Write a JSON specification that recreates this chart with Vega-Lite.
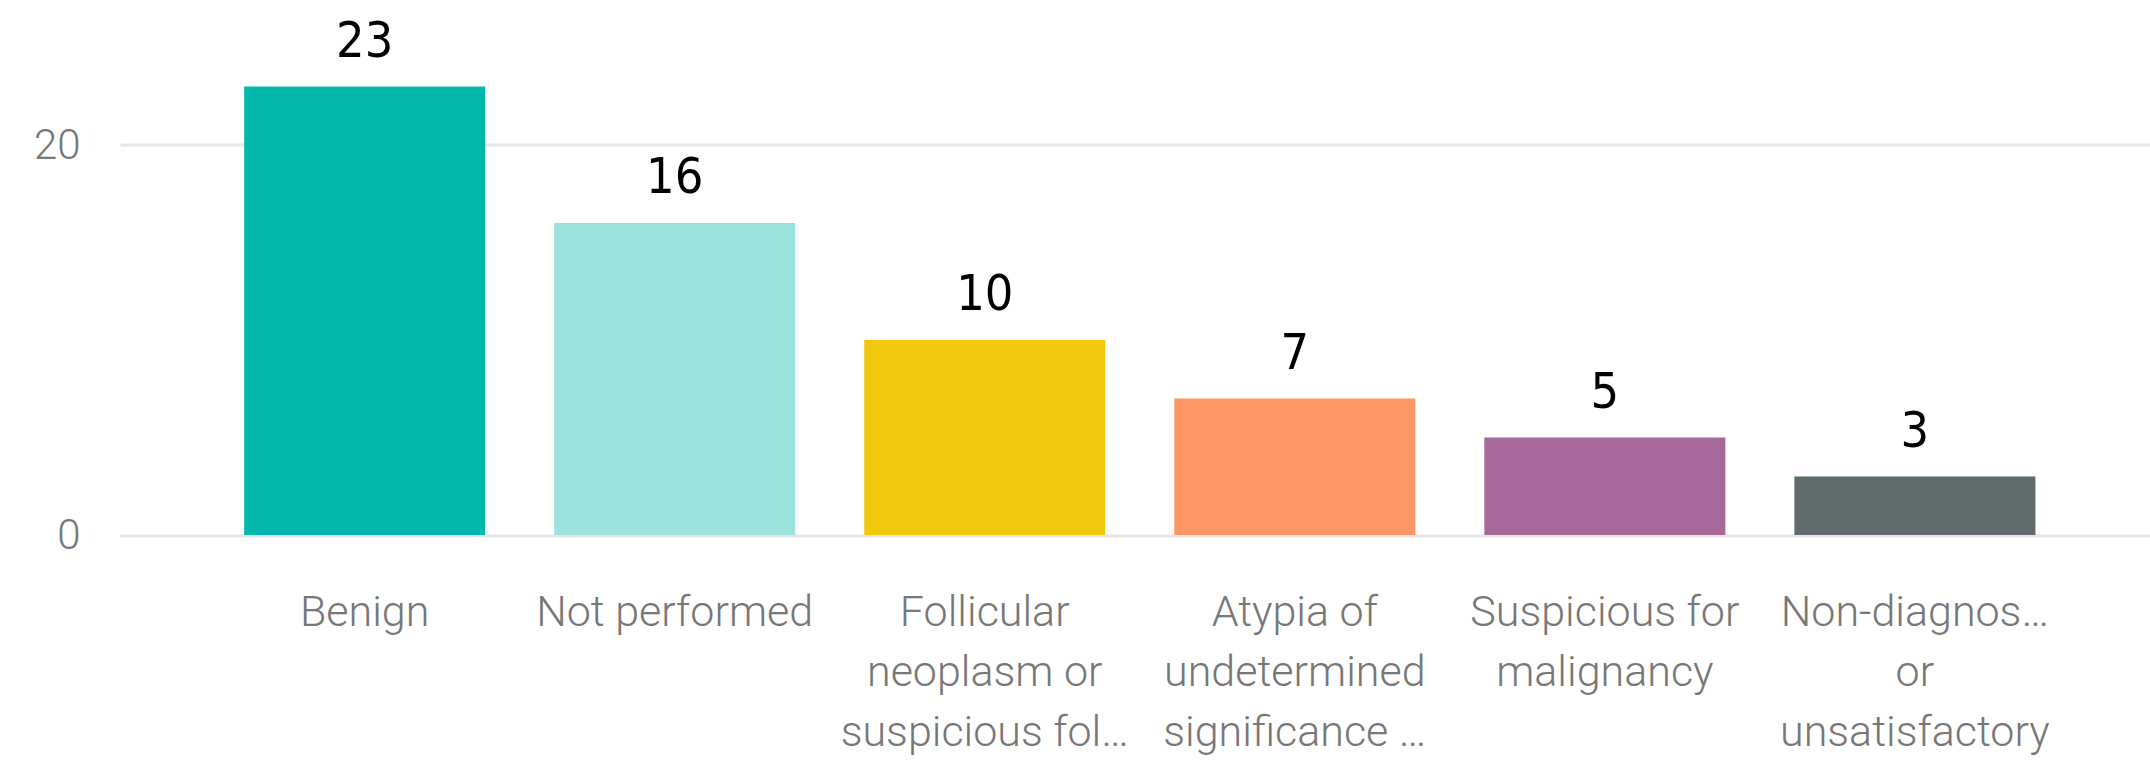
{
  "$schema": "https://vega.github.io/schema/vega-lite/v6.json",
  "width": 2030,
  "height": 487.5,
  "autosize": {"type": "none"},
  "padding": {"left": 120, "top": 47.5, "right": 0, "bottom": 229},
  "background": "white",
  "config": {"view": {"stroke": null}},
  "data": {
    "values": [
      {"category": "Benign", "count": 23},
      {"category": "Not performed", "count": 16},
      {"category": "Follicular neoplasm or suspicious for a follicular neoplasm", "count": 10},
      {"category": "Atypia of undetermined significance or follicular lesion of undetermined significance", "count": 7},
      {"category": "Suspicious for malignancy", "count": 5},
      {"category": "Non-diagnostic or unsatisfactory", "count": 3}
    ]
  },
  "encoding": {
    "x": {
      "field": "category",
      "type": "nominal",
      "sort": null,
      "scale": {"paddingInner": 0.2226, "paddingOuter": 0.385, "align": 0.52},
      "axis": {
        "title": null,
        "domain": false,
        "ticks": false,
        "labelAngle": 0,
        "labelFont": "Roboto",
        "labelFontWeight": 300,
        "labelFontSize": 43,
        "labelColor": "#777777",
        "labelPadding": 56,
        "labelLineHeight": 60,
        "labelBaseline": "top",
        "labelLimit": 0,
        "labelExpr": "datum.value == 'Follicular neoplasm or suspicious for a follicular neoplasm' ? ['Follicular', 'neoplasm or', 'suspicious fol…'] : datum.value == 'Atypia of undetermined significance or follicular lesion of undetermined significance' ? ['Atypia of', 'undetermined', 'significance …'] : datum.value == 'Suspicious for malignancy' ? ['Suspicious for', 'malignancy'] : datum.value == 'Non-diagnostic or unsatisfactory' ? ['Non-diagnos…', 'or', 'unsatisfactory'] : datum.value"
      }
    },
    "y": {
      "field": "count",
      "type": "quantitative",
      "scale": {"domain": [0, 25], "nice": false},
      "axis": {
        "title": null,
        "domain": false,
        "ticks": false,
        "values": [0, 20],
        "labelFont": "Roboto",
        "labelFontWeight": 300,
        "labelFontSize": 42,
        "labelColor": "#777777",
        "labelPadding": 40,
        "gridColor": "#E6E6E6",
        "gridWidth": 3
      }
    }
  },
  "layer": [
    {
      "mark": {"type": "bar"},
      "encoding": {
        "color": {
          "field": "category",
          "type": "nominal",
          "sort": null,
          "legend": null,
          "scale": {"range": ["#01B8AA", "#9AE3DC", "#F2C80F", "#FE9666", "#A66999", "#5F6B6D"]}
        }
      }
    },
    {
      "mark": {"type": "text", "font": "DejaVu Sans Condensed, Roboto Condensed, Roboto, sans-serif", "fontSize": 50, "color": "#000000", "baseline": "alphabetic", "dy": -30},
      "encoding": {"text": {"field": "count", "type": "quantitative"}}
    }
  ]
}
